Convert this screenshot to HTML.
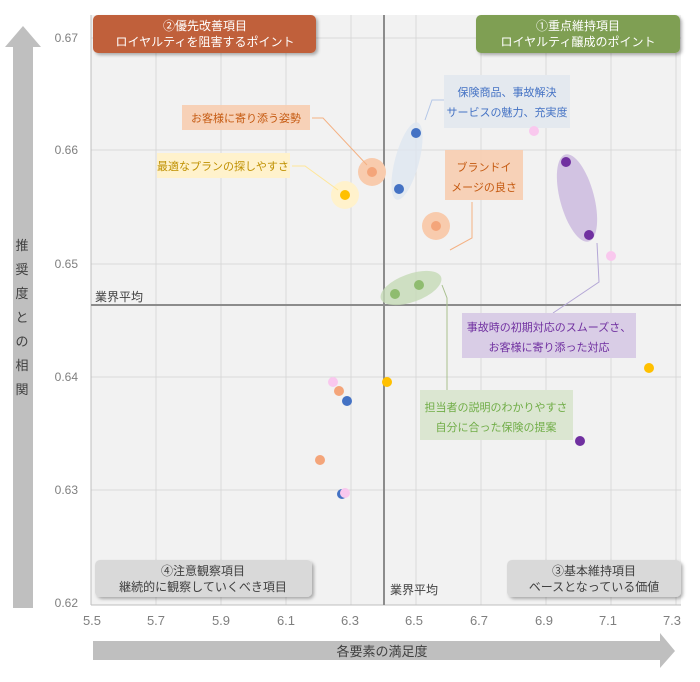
<!DOCTYPE html>
<html><head><meta charset="utf-8"><style>
body{margin:0;background:#fff;}
svg text{font-family:"Liberation Sans","Noto Sans CJK JP",sans-serif;}
</style></head><body>
<svg width="700" height="677" viewBox="0 0 700 677" xmlns="http://www.w3.org/2000/svg">
<defs>
<filter id="sh" x="-10%" y="-10%" width="130%" height="140%"><feDropShadow dx="2" dy="2" stdDeviation="1.5" flood-color="#000" flood-opacity="0.3"/></filter>
</defs>
<rect x="91" y="15" width="590" height="590" fill="#f2f2f2"/>
<g stroke="#d9d9d9" stroke-width="1">
<line x1="156" y1="15" x2="156" y2="605"/><line x1="221" y1="15" x2="221" y2="605"/>
<line x1="286" y1="15" x2="286" y2="605"/><line x1="351" y1="15" x2="351" y2="605"/>
<line x1="416" y1="15" x2="416" y2="605"/><line x1="481" y1="15" x2="481" y2="605"/>
<line x1="546" y1="15" x2="546" y2="605"/><line x1="611" y1="15" x2="611" y2="605"/>
<line x1="676" y1="15" x2="676" y2="605"/>
<line x1="91" y1="38" x2="681" y2="38"/><line x1="91" y1="150" x2="681" y2="150"/>
<line x1="91" y1="264" x2="681" y2="264"/><line x1="91" y1="377" x2="681" y2="377"/>
<line x1="91" y1="490" x2="681" y2="490"/>
</g>
<line x1="91" y1="15" x2="91" y2="605" stroke="#bfbfbf"/>
<line x1="91" y1="605" x2="681" y2="605" stroke="#bfbfbf"/>
<line x1="384" y1="15" x2="384" y2="605" stroke="#8c8c8c" stroke-width="2"/>
<line x1="91" y1="305" x2="681" y2="305" stroke="#8c8c8c" stroke-width="2"/>

<g font-size="12" fill="#7f7f7f" text-anchor="end">
<text x="78" y="42">0.67</text><text x="78" y="154">0.66</text><text x="78" y="268">0.65</text>
<text x="78" y="381">0.64</text><text x="78" y="494">0.63</text><text x="78" y="607">0.62</text>
</g>
<g font-size="13" fill="#7f7f7f" text-anchor="middle" style="font-family:'Liberation Serif',serif">
<text x="92" y="625">5.5</text><text x="156" y="625">5.7</text><text x="221" y="625">5.9</text>
<text x="286" y="625">6.1</text><text x="350" y="625">6.3</text><text x="414" y="625">6.5</text>
<text x="479" y="625">6.7</text><text x="544" y="625">6.9</text><text x="608" y="625">7.1</text>
<text x="672" y="625">7.3</text>
</g>

<polygon points="5,47 23,26 41,47 33,47 33,608 13,608 13,47" fill="#bfbfbf"/>
<g font-size="13" fill="#404040" text-anchor="middle">
<text x="22" y="250">推</text><text x="22" y="274">奨</text><text x="22" y="298">度</text>
<text x="22" y="322">と</text><text x="22" y="346">の</text><text x="22" y="370">相</text><text x="22" y="394">関</text>
</g>
<polygon points="93,641 660,641 660,633 675,651 660,668 660,660 93,660" fill="#bfbfbf"/>
<text x="382" y="656" font-size="13" fill="#404040" text-anchor="middle">各要素の満足度</text>

<rect x="93" y="15" width="223" height="38" rx="5" fill="#c0603a" filter="url(#sh)"/>
<text x="205" y="30" font-size="12" fill="#fff" text-anchor="middle">②優先改善項目</text>
<text x="205" y="46" font-size="12" fill="#fff" text-anchor="middle">ロイヤルティを阻害するポイント</text>
<rect x="476" y="15" width="204" height="38" rx="5" fill="#7f9f52" filter="url(#sh)"/>
<text x="578" y="30" font-size="12" fill="#fff" text-anchor="middle">①重点維持項目</text>
<text x="578" y="46" font-size="12" fill="#fff" text-anchor="middle">ロイヤルティ醸成のポイント</text>
<rect x="95" y="560" width="217" height="37" rx="5" fill="#d9d9d9" filter="url(#sh)"/>
<text x="203" y="575" font-size="12" fill="#404040" text-anchor="middle">④注意観察項目</text>
<text x="203" y="591" font-size="12" fill="#404040" text-anchor="middle">継続的に観察していくべき項目</text>
<rect x="507" y="560" width="174" height="37" rx="5" fill="#d9d9d9" filter="url(#sh)"/>
<text x="594" y="575" font-size="12" fill="#404040" text-anchor="middle">③基本維持項目</text>
<text x="594" y="591" font-size="12" fill="#404040" text-anchor="middle">ベースとなっている価値</text>
<text x="95" y="301" font-size="12" fill="#404040">業界平均</text>
<text x="390" y="594" font-size="12" fill="#404040">業界平均</text>

<ellipse cx="407" cy="161" rx="12" ry="40" fill="#dde6f0" opacity="0.8" transform="rotate(15 407 161)"/>
<ellipse cx="577" cy="198" rx="17" ry="45" fill="#c9b6dd" opacity="0.8" transform="rotate(-15 577 198)"/>
<ellipse cx="411" cy="288" rx="32" ry="14" fill="#c4d9b5" opacity="0.8" transform="rotate(-20 411 288)"/>
<circle cx="372" cy="172" r="14" fill="#f8cbad"/>
<circle cx="345" cy="195" r="14" fill="#fff2cc"/>
<circle cx="436" cy="226" r="14" fill="#f8cbad"/>

<g fill="none" stroke-width="1">
<polyline points="312,118 323,118 367,165" stroke="#f4b183"/>
<polyline points="292,166 305,166 338,190" stroke="#ffe699"/>
<polyline points="444,100 432,100 425,120" stroke="#b4c7e7"/>
<polyline points="472,202 472,238 450,250" stroke="#f4b183"/>
<polyline points="597,243 599,282 553,313" stroke="#b4a7d6"/>
<polyline points="442,285 447,298 447,390" stroke="#a9c08f"/>
</g>

<rect x="182" y="105" width="128" height="25" fill="#f8cbad" opacity="0.85"/>
<text x="246" y="122" font-size="11" fill="#c55a11" text-anchor="middle">お客様に寄り添う姿勢</text>
<rect x="157" y="153" width="133" height="25" fill="#fff2cc"/>
<text x="223" y="170" font-size="11" fill="#bf9000" text-anchor="middle">最適なプランの探しやすさ</text>
<rect x="444" y="75" width="126" height="53" fill="#e4e9ef"/>
<text x="507" y="96" font-size="11" fill="#4472c4" text-anchor="middle">保険商品、事故解決</text>
<text x="507" y="116" font-size="11" fill="#4472c4" text-anchor="middle">サービスの魅力、充実度</text>
<rect x="445" y="150" width="78" height="50" fill="#f8cbad" opacity="0.85"/>
<text x="484" y="171" font-size="11" fill="#c55a11" text-anchor="middle">ブランドイ</text>
<text x="484" y="191" font-size="11" fill="#c55a11" text-anchor="middle">メージの良さ</text>
<rect x="462" y="313" width="174" height="45" fill="#d9cde6"/>
<text x="549" y="331" font-size="11" fill="#7030a0" text-anchor="middle">事故時の初期対応のスムーズさ、</text>
<text x="549" y="351" font-size="11" fill="#7030a0" text-anchor="middle">お客様に寄り添った対応</text>
<rect x="420" y="390" width="153" height="50" fill="#dbe6d1"/>
<text x="496" y="411" font-size="11" fill="#70ad47" text-anchor="middle">担当者の説明のわかりやすさ</text>
<text x="496" y="431" font-size="11" fill="#70ad47" text-anchor="middle">自分に合った保険の提案</text>

<g>
<circle cx="416" cy="133" r="5" fill="#4472c4"/>
<circle cx="399" cy="189" r="5" fill="#4472c4"/>
<circle cx="372" cy="172" r="5" fill="#f4a57a"/>
<circle cx="345" cy="195" r="5" fill="#ffc000"/>
<circle cx="436" cy="226" r="5" fill="#f4a57a"/>
<circle cx="534" cy="131" r="5" fill="#f9c8ee"/>
<circle cx="566" cy="162" r="5" fill="#7030a0"/>
<circle cx="589" cy="235" r="5" fill="#7030a0"/>
<circle cx="611" cy="256" r="5" fill="#f9c8ee"/>
<circle cx="395" cy="294" r="5" fill="#8fbc6f"/>
<circle cx="419" cy="285" r="5" fill="#8fbc6f"/>
<circle cx="649" cy="368" r="5" fill="#ffc000"/>
<circle cx="333" cy="382" r="5" fill="#f9c8ee"/>
<circle cx="339" cy="391" r="5" fill="#f4a57a"/>
<circle cx="387" cy="382" r="5" fill="#ffc000"/>
<circle cx="347" cy="401" r="5" fill="#4472c4"/>
<circle cx="580" cy="441" r="5" fill="#7030a0"/>
<circle cx="320" cy="460" r="5" fill="#f4a57a"/>
<circle cx="342" cy="494" r="5" fill="#4472c4"/>
<circle cx="345" cy="493" r="5" fill="#f9c8ee"/>
</g>
</svg>
</body></html>
